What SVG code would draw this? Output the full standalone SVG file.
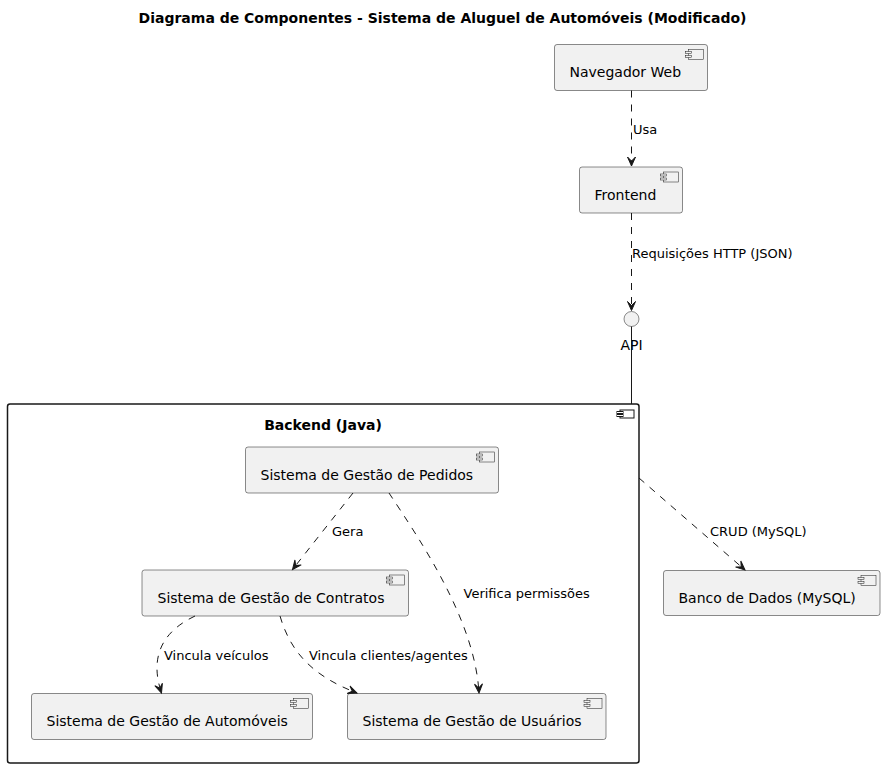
<svg xmlns="http://www.w3.org/2000/svg" width="885" height="768" viewBox="0 0 885 768">
<style>
text{font-family:"DejaVu Sans","Liberation Sans",sans-serif;fill:#000}
.t{font-size:14px;font-weight:bold}
.n{font-size:14px}
.e{font-size:13px}
.box{fill:#F1F1F1;stroke:#181818;stroke-width:0.5}
.ic{fill:#F1F1F1;stroke:#181818;stroke-width:0.5}
.dash{fill:none;stroke:#181818;stroke-width:1;stroke-dasharray:7,7;marker-end:url(#arr)}
</style>
<defs>
<marker id="arr" viewBox="-10 -5 12 10" refX="0" refY="0" markerWidth="12" markerHeight="10" orient="auto" markerUnits="userSpaceOnUse">
<path d="M0,0 L-9,-4 L-5,0 L-9,4 Z" fill="#181818" stroke="#181818" stroke-width="1" stroke-dasharray="none"/>
</marker>
</defs>
<rect width="885" height="768" fill="#fff"/>
<text class="t" x="442.5" y="22.5" text-anchor="middle">Diagrama de Componentes - Sistema de Aluguel de Automóveis (Modificado)</text>

<g id="backend">
<rect x="7.5" y="404" width="631.5" height="359" rx="2.5" fill="#fff" stroke="#181818" stroke-width="1.5"/>
<rect x="620" y="410" width="14" height="8" fill="#fff" stroke="#181818" stroke-width="1"/>
<rect x="617" y="411.5" width="6" height="2" fill="#fff" stroke="#181818" stroke-width="1"/>
<rect x="617" y="414.5" width="6" height="2" fill="#fff" stroke="#181818" stroke-width="1"/>
<text class="t" x="323" y="430" text-anchor="middle">Backend (Java)</text>
</g>

<g id="navegador">
<rect class="box" x="554.5" y="44.5" width="153" height="46" rx="2.5"/>
<rect class="ic" x="688.5" y="49.5" width="15" height="10"/>
<rect class="ic" x="685.5" y="51.5" width="6" height="2"/>
<rect class="ic" x="685.5" y="55.5" width="6" height="2"/>
<text class="n" x="569.5" y="77">Navegador Web</text>
</g>

<g id="frontend">
<rect class="box" x="579.5" y="167" width="103" height="46" rx="2.5"/>
<rect class="ic" x="663.5" y="172" width="15" height="10"/>
<rect class="ic" x="660.5" y="174" width="6" height="2"/>
<rect class="ic" x="660.5" y="178" width="6" height="2"/>
<text class="n" x="594.5" y="199.5">Frontend</text>
</g>

<g id="api">
<circle cx="631.5" cy="319" r="7.5" fill="#F1F1F1" stroke="#181818" stroke-width="0.5"/>
<text class="n" x="631.5" y="350" text-anchor="middle">API</text>
</g>

<g id="pedidos">
<rect class="box" x="245.5" y="447" width="253" height="46" rx="2.5"/>
<rect class="ic" x="479.5" y="452" width="15" height="10"/>
<rect class="ic" x="476.5" y="454" width="6" height="2"/>
<rect class="ic" x="476.5" y="458" width="6" height="2"/>
<text class="n" x="260.5" y="479.5">Sistema de Gestão de Pedidos</text>
</g>

<g id="contratos">
<rect class="box" x="142" y="570" width="266.5" height="46" rx="2.5"/>
<rect class="ic" x="389.5" y="575" width="15" height="10"/>
<rect class="ic" x="386.5" y="577" width="6" height="2"/>
<rect class="ic" x="386.5" y="581" width="6" height="2"/>
<text class="n" x="157.5" y="602.5">Sistema de Gestão de Contratos</text>
</g>

<g id="automoveis">
<rect class="box" x="31.5" y="693.5" width="281" height="46" rx="2.5"/>
<rect class="ic" x="293.5" y="698.5" width="15" height="10"/>
<rect class="ic" x="290.5" y="700.5" width="6" height="2"/>
<rect class="ic" x="290.5" y="704.5" width="6" height="2"/>
<text class="n" x="46.5" y="726">Sistema de Gestão de Automóveis</text>
</g>

<g id="usuarios">
<rect class="box" x="347.5" y="693.5" width="258.5" height="46" rx="2.5"/>
<rect class="ic" x="587" y="698.5" width="15" height="10"/>
<rect class="ic" x="584" y="700.5" width="6" height="2"/>
<rect class="ic" x="584" y="704.5" width="6" height="2"/>
<text class="n" x="362.5" y="726">Sistema de Gestão de Usuários</text>
</g>

<g id="banco">
<rect class="box" x="663.5" y="570.5" width="216.5" height="45" rx="2.5"/>
<rect class="ic" x="861" y="575.5" width="15" height="10"/>
<rect class="ic" x="858" y="577.5" width="6" height="2"/>
<rect class="ic" x="858" y="581.5" width="6" height="2"/>
<text class="n" x="678.5" y="603">Banco de Dados (MySQL)</text>
</g>

<g id="connectors">
<path class="dash" d="M631.5,90.5 L631.5,166"/>
<text class="e" x="633" y="134">Usa</text>
<path class="dash" d="M631.5,213 L631.5,310.5"/>
<text class="e" x="632" y="258">Requisições HTTP (JSON)</text>
<path d="M631.5,326.5 L631.5,404" fill="none" stroke="#181818" stroke-width="1"/>
<path class="dash" d="M639,478 L745,570"/>
<text class="e" x="710" y="535.5">CRUD (MySQL)</text>
<path class="dash" d="M353,493 L292.5,569.5"/>
<text class="e" x="332" y="536">Gera</text>
<path class="dash" d="M389,493 C420,540 475,620 479,693"/>
<text class="e" x="463.5" y="598">Verifica permissões</text>
<path class="dash" d="M195,616 C155,635 152,665 161.5,693"/>
<text class="e" x="164" y="660">Vincula veículos</text>
<path class="dash" d="M280,616 C290,650 310,675 357,693"/>
<text class="e" x="309" y="660">Vincula clientes/agentes</text>
</g>
</svg>
